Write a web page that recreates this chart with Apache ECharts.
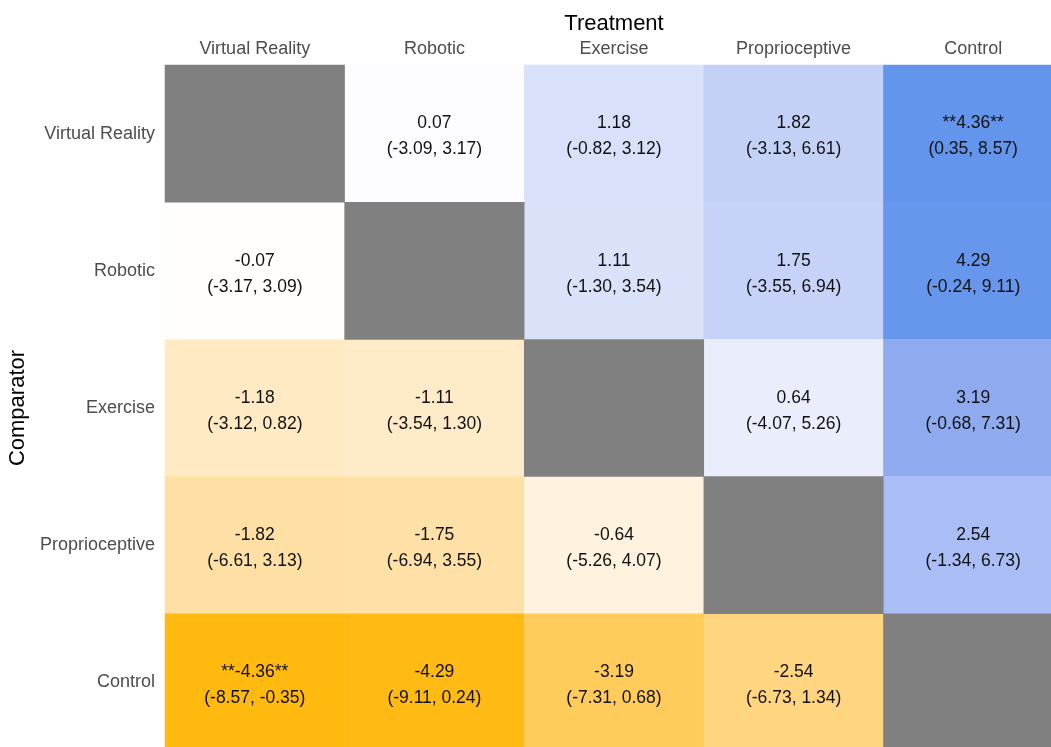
<!DOCTYPE html>
<html>
<head>
<meta charset="utf-8">
<script src="https://cdn.jsdelivr.net/npm/echarts@6/dist/echarts.min.js"></script>
<style>
  html, body { margin: 0; padding: 0; background: #fff; }
  #chart { width: 1051px; height: 747px; }
</style>
</head>
<body>
<div id="chart"></div>
<script>
// treatment (columns) vs comparator (rows)
var treatments = ['Virtual Reality', 'Robotic', 'Exercise', 'Proprioceptive', 'Control'];
var comparators = ['Virtual Reality', 'Robotic', 'Exercise', 'Proprioceptive', 'Control'];

// point estimates, row = comparator, col = treatment
var estimates = [
  [null, 0.07, 1.18, 1.82, 4.36],
  [-0.07, null, 1.11, 1.75, 4.29],
  [-1.18, -1.11, null, 0.64, 3.19],
  [-1.82, -1.75, -0.64, null, 2.54],
  [-4.36, -4.29, -3.19, -2.54, null]
];
var lower = [
  [null, -3.09, -0.82, -3.13, 0.35],
  [-3.17, null, -1.30, -3.55, -0.24],
  [-3.12, -3.54, null, -4.07, -0.68],
  [-6.61, -6.94, -5.26, null, -1.34],
  [-8.57, -9.11, -7.31, -6.73, null]
];
var upper = [
  [null, 3.17, 3.12, 6.61, 8.57],
  [3.09, null, 3.54, 6.94, 9.11],
  [0.82, 1.30, null, 5.26, 7.31],
  [3.13, 3.55, 4.07, null, 6.73],
  [-0.35, 0.24, 0.68, 1.34, null]
];

var cells = [];
var diag = [];
for (var r = 0; r < comparators.length; r++) {
  for (var c = 0; c < treatments.length; c++) {
    if (estimates[r][c] === null) {
      diag.push([c, r, 0]);
    } else {
      cells.push([c, r, estimates[r][c], lower[r][c], upper[r][c]]);
    }
  }
}

function fmt(v) { return v.toFixed(2); }

var myChart = echarts.init(document.getElementById('chart'));
var option = {
  animation: false,
  backgroundColor: '#ffffff',
  grid: { left: 165, top: 65, width: 898, height: 686, outerBoundsMode: 'none', containLabel: false },
  xAxis: {
    type: 'category',
    position: 'top',
    data: treatments,
    name: 'Treatment',
    nameLocation: 'middle',
    nameGap: 30,
    nameTextStyle: { fontSize: 22, color: '#000', fontFamily: 'Liberation Sans' },
    axisLine: { show: false },
    axisTick: { show: false },
    splitLine: { show: false },
    axisLabel: { fontSize: 18, color: '#4d4d4d', margin: 7, fontFamily: 'Liberation Sans' }
  },
  yAxis: {
    type: 'category',
    inverse: true,
    data: comparators,
    name: 'Comparator',
    nameLocation: 'middle',
    nameGap: 126,
    nameRotate: 90,
    nameTextStyle: { fontSize: 22, color: '#000', fontFamily: 'Liberation Sans' },
    axisLine: { show: false },
    axisTick: { show: false },
    splitLine: { show: false },
    axisLabel: { fontSize: 18, color: '#4d4d4d', margin: 10, fontFamily: 'Liberation Sans' }
  },
  visualMap: {
    show: false,
    seriesIndex: 0,
    dimension: 2,
    min: -4.36,
    max: 4.36,
    inRange: {
      color: ['#ffb90f', '#ffca57', '#ffda92', '#ffebc9', '#ffffff',
              '#dbe2fa', '#b9c8f6', '#8da8f0', '#6495ed']
    }
  },
  series: [
    {
      type: 'heatmap',
      data: cells,
      label: {
        show: true,
        color: '#111',
        fontSize: 17.5,
        lineHeight: 26,
        offset: [0, 3],
        fontFamily: 'Liberation Sans',
        formatter: function (p) {
          var d = p.data;
          var sig = d[3] > 0 || d[4] < 0;
          var est = sig ? '**' + fmt(d[2]) + '**' : fmt(d[2]);
          return est + '\n(' + fmt(d[3]) + ', ' + fmt(d[4]) + ')';
        }
      },
      emphasis: { disabled: true }
    },
    {
      type: 'heatmap',
      data: diag,
      itemStyle: { color: '#808080' },
      label: { show: false },
      emphasis: { disabled: true }
    }
  ]
};
myChart.setOption(option);
</script>
</body>
</html>
